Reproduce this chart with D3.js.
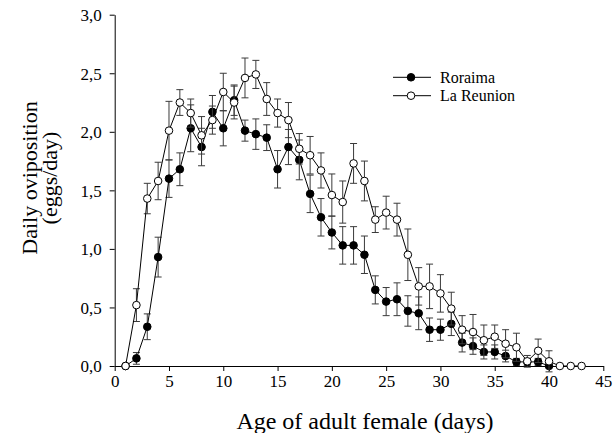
<!DOCTYPE html>
<html>
<head>
<meta charset="utf-8">
<script src="https://cdn.jsdelivr.net/npm/d3@7"></script>
<style>
  html, body { margin: 0; padding: 0; background: #fff; }
  svg { display: block; }
  text { font-family: "Liberation Serif", "Times New Roman", serif; fill: #000; }
</style>
</head>
<body>
<svg id="chart" width="616" height="433"></svg>
<script>
// ---- data ----
const roraimaDays = [1,2,3,4,5,6,7,8,9,10,11,12,13,14,15,16,17,18,19,20,21,22,23,24,25,26,27,28,29,30,31,32,33,34,35,36,37,38,39,40];
const roraimaMean = [0,0.065,0.335,0.93,1.60,1.68,2.03,1.87,2.17,2.03,2.27,2.01,1.98,1.95,1.68,1.87,1.76,1.47,1.27,1.14,1.03,1.03,0.95,0.65,0.55,0.57,0.47,0.45,0.31,0.31,0.36,0.20,0.17,0.12,0.12,0.085,0.035,0.035,0.035,0.0];
const roraimaErr  = [0,0.05,0.11,0.17,0.16,0.14,0.20,0.16,0.14,0.15,0.13,0.09,0.13,0.11,0.16,0.15,0.17,0.16,0.16,0.14,0.16,0.16,0.16,0.12,0.12,0.14,0.13,0.14,0.10,0.09,0.10,0.08,0.07,0.06,0.06,0.05,0.03,0.03,0.03,0.0];

const reunionDays = [1,2,3,4,5,6,7,8,9,10,11,12,13,14,15,16,17,18,19,20,21,22,23,24,25,26,27,28,29,30,31,32,33,34,35,36,37,38,39,40,41,42,43];
const reunionMean = [0,0.52,1.43,1.58,2.01,2.25,2.16,1.97,2.10,2.34,2.25,2.46,2.49,2.28,2.16,2.10,1.855,1.80,1.67,1.46,1.40,1.73,1.58,1.25,1.31,1.25,0.95,0.68,0.68,0.62,0.49,0.31,0.29,0.22,0.25,0.19,0.16,0.04,0.13,0.04,0,0,0];
const reunionErr  = [0,0.14,0.13,0.16,0.25,0.11,0.12,0.16,0.12,0.16,0.14,0.17,0.12,0.14,0.12,0.15,0.13,0.16,0.15,0.18,0.18,0.17,0.17,0.11,0.14,0.14,0.22,0.16,0.19,0.16,0.14,0.12,0.15,0.13,0.10,0.12,0.12,0.05,0.10,0.09,0,0,0];

const xTicks = [0,5,10,15,20,25,30,35,40,45];
const yTicks = [0,0.5,1.0,1.5,2.0,2.5,3.0];
const seriesNames = ["Roraima", "La Reunion"];
const xTitle = "Age of adult female (days)";
const yTitleLines = ["Daily oviposition", "(eggs/day)"];

// ---- layout ----
const W = 616, H = 433;
const margin = {left: 114.7, top: 14.7, right: 12.7, bottom: 67};
const serif = "Liberation Serif, Times New Roman, serif";
const svg = d3.select("#chart");

const x = d3.scaleLinear().domain([0,45]).range([margin.left, W - margin.right]);
const y = d3.scaleLinear().domain([0,3]).range([H - margin.bottom, margin.top]);

const fmt = v => d3.format(".1f")(v).replace(".", ",");

// axes
const xAxis = svg.append("g")
  .attr("transform", `translate(0,${H - margin.bottom})`)
  .call(d3.axisBottom(x).tickValues(xTicks).tickSize(5).tickSizeOuter(0).tickPadding(4));
const yAxis = svg.append("g")
  .attr("transform", `translate(${margin.left},0)`)
  .call(d3.axisLeft(y).tickValues(yTicks).tickFormat(fmt).tickSize(5).tickSizeOuter(0).tickPadding(8));
[xAxis, yAxis].forEach(g => {
  g.attr("font-family", serif).attr("font-size", 17);
  g.selectAll("path, line").attr("stroke", "#000").attr("stroke-width", 1);
  g.selectAll("text").attr("font-family", serif).attr("font-size", 17).attr("fill", "#000");
});
yAxis.selectAll("text").attr("dy", "0.34em");

// titles
svg.append("text")
  .attr("x", 365).attr("y", 429)
  .attr("text-anchor", "middle")
  .attr("font-family", serif)
  .attr("font-size", 24)
  .text(xTitle);
const yt = svg.append("g").attr("transform", "translate(0,178) rotate(-90)");
yTitleLines.forEach((t, i) => {
  yt.append("text")
    .attr("x", 0).attr("y", 37 + i * 20)
    .attr("text-anchor", "middle")
    .attr("font-family", serif)
    .attr("font-size", 22)
    .text(t);
});

// series
function makeSeries(days, mean, err) {
  return days.map((d, i) => ({d: d, m: mean[i], e: err[i]}));
}
const series = [
  {name: seriesNames[0], data: makeSeries(roraimaDays, roraimaMean, roraimaErr), fill: "#000"},
  {name: seriesNames[1], data: makeSeries(reunionDays, reunionMean, reunionErr), fill: "#fff"}
];

const line = d3.line().x(p => x(p.d)).y(p => y(p.m));
const cap = 3.5;

series.forEach(s => {
  const g = svg.append("g");
  const eb = g.append("g").attr("stroke", "#3a3a3a").attr("stroke-width", 1);
  s.data.filter(p => p.e > 0).forEach(p => {
    eb.append("line").attr("x1", x(p.d)).attr("x2", x(p.d)).attr("y1", y(p.m + p.e)).attr("y2", y(p.m - p.e));
    eb.append("line").attr("x1", x(p.d) - cap).attr("x2", x(p.d) + cap).attr("y1", y(p.m + p.e)).attr("y2", y(p.m + p.e));
    eb.append("line").attr("x1", x(p.d) - cap).attr("x2", x(p.d) + cap).attr("y1", y(p.m - p.e)).attr("y2", y(p.m - p.e));
  });
  g.append("path").datum(s.data).attr("d", line).attr("fill", "none").attr("stroke", "#000").attr("stroke-width", 1);
  g.selectAll("circle").data(s.data).join("circle")
    .attr("cx", p => x(p.d)).attr("cy", p => y(p.m)).attr("r", 3.8)
    .attr("fill", s.fill).attr("stroke", "#000").attr("stroke-width", 1);
});

// legend
const legend = svg.append("g");
series.forEach((s, i) => {
  const ly = 77.3 + i * 18.4;
  legend.append("line").attr("x1", 393).attr("x2", 431).attr("y1", ly).attr("y2", ly).attr("stroke", "#000").attr("stroke-width", 1);
  legend.append("circle").attr("cx", 411).attr("cy", ly).attr("r", 3.8).attr("fill", s.fill).attr("stroke", "#000");
  legend.append("text").attr("x", 440).attr("y", ly).attr("dy", "0.35em")
    .attr("font-family", serif).attr("font-size", 16).text(s.name);
});
</script>
</body>
</html>
